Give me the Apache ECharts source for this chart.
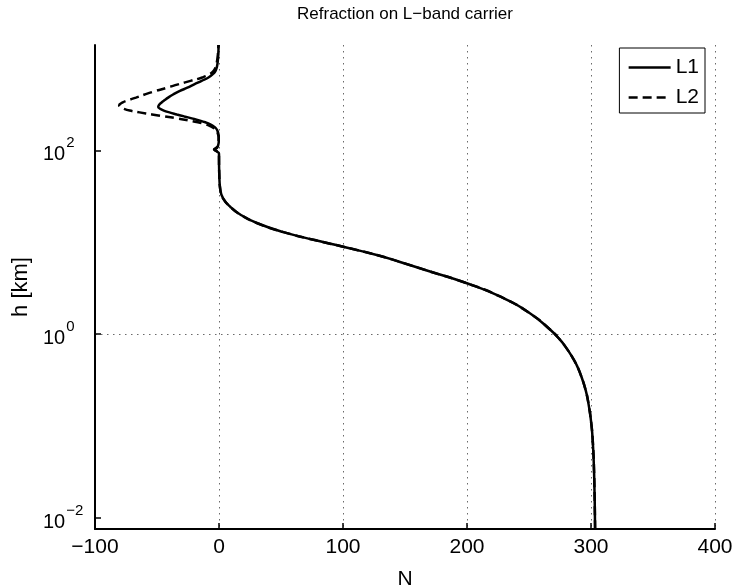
<!DOCTYPE html>
<html>
<head>
<meta charset="utf-8">
<script src="https://cdn.jsdelivr.net/npm/echarts@6/dist/echarts.min.js"></script>
<style>
html,body{margin:0;padding:0;background:#fff;}
#chart{width:733px;height:588px;}
</style>
</head>
<body>
<div id="chart"></div>
<script>
// ---- data (h in km, N refractivity) ----
// lower atmosphere (common to L1 and L2)
const hNeutral = [0.0076, 0.031, 0.07, 0.108, 0.162, 0.246, 0.377, 0.48, 0.567, 0.728, 0.861, 1.105, 1.68, 2.54, 3.56, 4.96, 6.11, 7.22, 8.89, 10.5, 12.9, 16.0, 19.7, 24.2, 29.9, 36.7, 55.8, 84.6];
const nNeutral = [303.3, 302.5, 301.4, 300.2, 298.4, 295.7, 291.2, 287.8, 284.8, 279.5, 275.3, 267.6, 251, 227.5, 200.5, 167, 146, 128, 101, 78, 52, 31.5, 18, 9.2, 3.4, 1.1, 0.2, 0];
// ionosphere heights
const hIono = [92, 97, 102, 107, 115, 125, 138, 150, 157, 165, 174, 183, 192, 202, 212, 223, 234, 246, 259, 271, 284, 297, 310, 330, 352, 375, 405, 443, 480, 522, 570, 621, 675, 733, 820, 935, 1100, 1400];
const nL1Iono = [0, -1.5, -3.5, -1.5, -0.6, -0.2, -0.2, -0.5, -0.8, -1.4, -2.5, -4.5, -7, -11, -16, -22, -28, -34, -40, -44.5, -47.5, -49, -48.5, -46.5, -43.8, -41, -37, -31.5, -25.5, -20, -14, -8.5, -5, -2.8, -1.6, -1, -0.6, -0.3];
const nL2Iono = [0, -1.5, -4, -2, -0.9, -0.3, -0.3, -0.8, -1.3, -2.3, -4, -7, -11, -17, -25, -34, -44, -54, -64, -72, -77, -80, -80.5, -78, -73, -67, -60, -51, -42, -33, -23, -13.5, -7.5, -4.3, -2.5, -1.6, -0.9, -0.5];
const seriesNames = ['L1', 'L2'];
const xTicks = [-100, 0, 100, 200, 300, 400];
const yTicks = [0.01, 1, 100];

const FONT = 'Liberation Sans, Arial, Helvetica, sans-serif';

function build(nIono) {
  const out = [];
  for (let i = 0; i < hNeutral.length; i++) out.push([nNeutral[i], hNeutral[i]]);
  for (let i = 0; i < hIono.length; i++) out.push([nIono[i], hIono[i]]);
  return out;
}

const chart = echarts.init(document.getElementById('chart'), null, {renderer: 'canvas'});
const gridLine = {show: true, lineStyle: {color: '#6a6a6a', width: 1, type: [1.5, 4.5]}};
const option = {
  animation: false,
  backgroundColor: '#ffffff',
  title: {
    text: 'Refraction on L\u2212band carrier',
    left: 400, top: 1, textAlign: 'center',
    textStyle: {fontFamily: FONT, fontSize: 17, fontWeight: 'normal', color: '#000'}
  },
  legend: {
    data: seriesNames,
    icon: 'inherit',
    orient: 'vertical',
    right: 28, top: 48,
    padding: [9, 6, 5, 8],
    itemGap: 9,
    itemWidth: 42, itemHeight: 21,
    backgroundColor: '#fff',
    borderColor: '#000', borderWidth: 1, borderRadius: 0,
    itemStyle: {color: 'rgba(0,0,0,0)', borderWidth: 0, opacity: 0},
    lineStyle: {width: 2.5},
    textStyle: {fontFamily: FONT, fontSize: 21, color: '#000'}
  },
  grid: {left: 95, right: 18, top: 45, bottom: 59, outerBoundsMode: 'none', containLabel: false},
  xAxis: {
    type: 'value', min: xTicks[0], max: xTicks[xTicks.length - 1], interval: 100,
    name: 'N', nameLocation: 'middle', nameGap: 40,
    nameTextStyle: {fontFamily: FONT, fontSize: 21, color: '#000'},
    axisLine: {show: true, onZero: false, lineStyle: {color: '#000', width: 2}},
    axisTick: {show: true, inside: true, length: 6, lineStyle: {color: '#000', width: 1.5}},
    axisLabel: {
      margin: 8, fontFamily: FONT, fontSize: 21, color: '#000',
      formatter: v => String(v).replace('-', '\u2212')
    },
    splitLine: gridLine
  },
  yAxis: {
    type: 'log', min: 0.0076, max: 1400,
    name: 'h [km]', nameLocation: 'middle', nameGap: 42, nameRotate: 90,
    nameTextStyle: {fontFamily: FONT, fontSize: 22, color: '#000'},
    axisLine: {show: true, onZero: false, lineStyle: {color: '#000', width: 2}},
    axisTick: {show: true, inside: true, length: 6, customValues: yTicks, lineStyle: {color: '#000', width: 1.5}},
    axisLabel: {
      customValues: yTicks,
      margin: 52, align: 'left',
      fontFamily: FONT, color: '#000',
      formatter: v => '{b|10}{s|' + String(Math.round(Math.log10(v))).replace('-', '\u2212') + '}',
      rich: {
        b: {fontFamily: FONT, fontSize: 20, lineHeight: 29, verticalAlign: 'bottom', color: '#000'},
        s: {fontFamily: FONT, fontSize: 15, verticalAlign: 'top', padding: [0, 0, 0, 1], color: '#000'}
      }
    },
    splitLine: Object.assign({showMinLine: false, showMaxLine: false}, gridLine)
  },
  series: [
    {
      name: seriesNames[0], type: 'line', data: build(nL1Iono),
      showSymbol: false, symbol: 'none', smooth: 0.5,
      lineStyle: {color: '#000', width: 2.5, type: 'solid'},
      itemStyle: {color: '#000'}
    },
    {
      name: seriesNames[1], type: 'line', data: build(nL2Iono),
      showSymbol: false, symbol: 'none', smooth: 0.5,
      lineStyle: {color: '#000', width: 2.5, type: [9, 5]},
      itemStyle: {color: '#000'}
    }
  ]
};
chart.setOption(option);
</script>
</body>
</html>
